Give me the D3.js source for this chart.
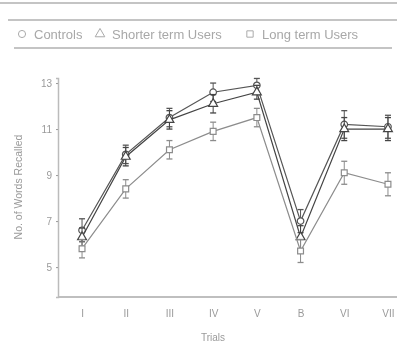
<!DOCTYPE html>
<html>
<head>
<meta charset="utf-8">
<script src="https://cdn.jsdelivr.net/npm/d3@7"></script>
<style>
  body { margin: 0; background: #fff; }
  svg { display: block; font-family: "Liberation Sans", Arial, sans-serif; }
</style>
</head>
<body>
<div id="chart"></div>
<script>
// trial labels (Rey auditory verbal learning test)
var trials = ["I", "II", "III", "IV", "V", "B", "VI", "VII"]
var yTicks = [5, 7, 9, 11, 13]

// mean words recalled per group
var controls    = [6.6, 9.9, 11.5, 12.6, 12.9, 7.0, 11.2, 11.1]
var shorterTerm = [6.3, 9.8, 11.4, 12.1, 12.6, 6.3, 11.0, 11.0]
var longTerm    = [5.8, 8.4, 10.1, 10.9, 11.5, 5.7, 9.1, 8.6]

// error bars
var controlsErr    = [0.5, 0.4, 0.4, 0.4, 0.3, 0.5, 0.6, 0.5]
var shorterTermErr = [0.4, 0.4, 0.4, 0.4, 0.3, 0.5, 0.5, 0.5]
var longTermErr    = [0.4, 0.4, 0.4, 0.4, 0.4, 0.5, 0.5, 0.5]

var groupNames = ["Controls", "Shorter term Users", "Long term Users"]

var width = 397
var height = 358

var svg = d3.select("#chart").append("svg")
    .attr("width", width)
    .attr("height", height)

// soften everything a little, the source is a scan
svg.append("defs").append("filter")
    .attr("id", "soft")
    .append("feGaussianBlur")
    .attr("stdDeviation", 0.45)

var g = svg.append("g").attr("filter", "url(#soft)")

var xScale = d3.scalePoint()
    .domain(trials)
    .range([58, 412])
    .padding(0.55)

var yScale = d3.scaleLinear()
    .domain([3.7, 13.22])
    .range([297, 78])

// frame lines of the legend strip
g.append("line").attr("x1", 0).attr("x2", width).attr("y1", 3).attr("y2", 3)
    .style("stroke", "#8a8a8a").style("stroke-width", 1.2)
g.append("line").attr("x1", 8).attr("x2", width).attr("y1", 20).attr("y2", 20)
    .style("stroke", "#8a8a8a").style("stroke-width", 1.2)
g.append("line").attr("x1", 14).attr("x2", 392).attr("y1", 48).attr("y2", 48)
    .style("stroke", "#8a8a8a").style("stroke-width", 1.2)

//axes
var xAxis = d3.axisBottom(xScale).tickSizeInner(0).tickSizeOuter(0).tickPadding(13)
var xg = g.append("g")
    .attr("transform", "translate(0,297)")
    .call(xAxis)
xg.select(".domain").attr("d", "M58,0H" + width).style("stroke", "#aaa").style("stroke-width", 1.5)
xg.selectAll("text").style("font-size", "10px").style("fill", "#9a9a9a")

var yAxis = d3.axisLeft(yScale).tickValues(yTicks).tickSize(2).tickPadding(4)
var yg = g.append("g")
    .attr("transform", "translate(58,0)")
    .call(yAxis)
yg.select(".domain").style("stroke", "#bbb").style("stroke-width", 1.5)
yg.selectAll(".tick line").style("stroke", "#999")
yg.selectAll("text").style("font-size", "10px").style("fill", "#9a9a9a")

g.append("text")
    .attr("x", 213)
    .attr("y", 341)
    .style("text-anchor", "middle")
    .style("font-size", "10px")
    .style("fill", "#9a9a9a")
    .text("Trials")

g.append("text")
    .attr("transform", "translate(22,187) rotate(270)")
    .style("text-anchor", "middle")
    .style("font-size", "10.5px")
    .style("fill", "#9a9a9a")
    .text("No. of Words Recalled")

var groups = [
  { name: groupNames[0], values: controls,    err: controlsErr,    shape: d3.symbolCircle,   color: "#555" },
  { name: groupNames[1], values: shorterTerm, err: shorterTermErr, shape: d3.symbolTriangle, color: "#444" },
  { name: groupNames[2], values: longTerm,    err: longTermErr,    shape: d3.symbolSquare,   color: "#8c8c8c" }
]

var valueline = d3.line()
    .x(function(d, i) { return xScale(trials[i]) })
    .y(function(d) { return yScale(d) })

groups.forEach(function(grp) {
  g.append("path")
      .datum(grp.values)
      .attr("d", valueline)
      .style("fill", "none")
      .style("stroke", grp.color)
      .style("stroke-width", 1.2)

  var pts = grp.values.map(function(v, i) { return { t: trials[i], v: v, e: grp.err[i] } })

  // error bars
  var eb = g.append("g").selectAll("g").data(pts).enter().append("g")
  eb.append("line")
      .attr("x1", function(d) { return xScale(d.t) })
      .attr("x2", function(d) { return xScale(d.t) })
      .attr("y1", function(d) { return yScale(d.v + d.e) })
      .attr("y2", function(d) { return yScale(d.v - d.e) })
      .style("stroke", grp.color)
  ;[1, -1].forEach(function(s) {
    eb.append("line")
        .attr("x1", function(d) { return xScale(d.t) - 3 })
        .attr("x2", function(d) { return xScale(d.t) + 3 })
        .attr("y1", function(d) { return yScale(d.v + s * d.e) })
        .attr("y2", function(d) { return yScale(d.v + s * d.e) })
        .style("stroke", grp.color)
        .style("stroke-width", 1.3)
  })

  g.append("g").selectAll("path").data(pts).enter().append("path")
      .attr("d", d3.symbol().type(grp.shape).size(34))
      .attr("transform", function(d) { return "translate(" + xScale(d.t) + "," + yScale(d.v) + ")" })
      .style("fill", "#fff")
      .style("stroke", grp.color)
      .style("stroke-width", 1.2)
})

// legend
var legendX = [22, 100, 250]
var leg = g.append("g").selectAll("g").data(groups).enter().append("g")
    .attr("transform", function(d, i) { return "translate(" + legendX[i] + ",34)" })
leg.append("path")
    .attr("d", function(d) { return d3.symbol().type(d.shape).size(40)() })
    .style("fill", "none")
    .style("stroke", "#aaa")
leg.append("text")
    .attr("x", 12)
    .attr("y", 4.5)
    .style("font-size", "13px")
    .style("fill", "#a8a8a8")
    .text(function(d) { return d.name })
</script>
</body>
</html>
